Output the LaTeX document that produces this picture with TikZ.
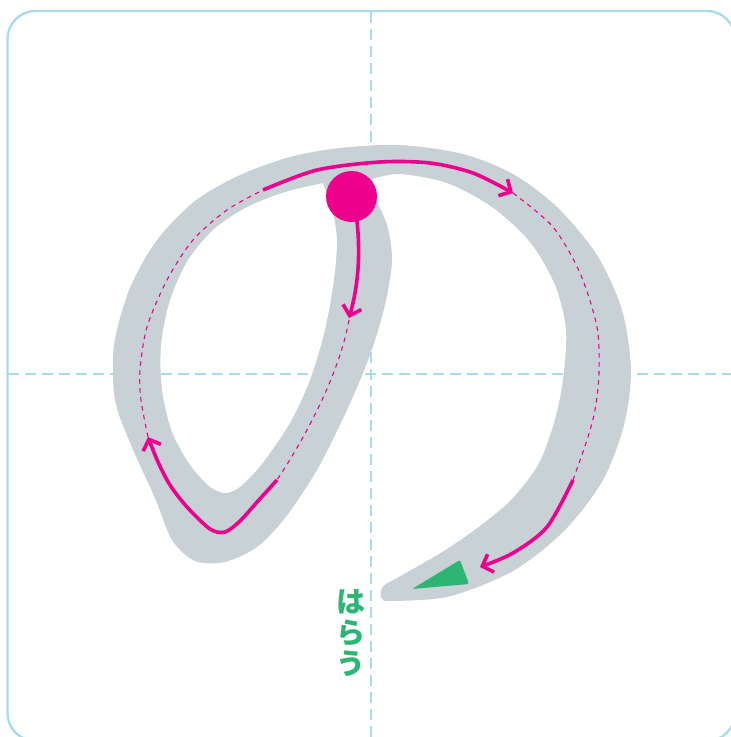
\documentclass[tikz,border=0pt]{standalone}
\usepackage{fontspec}
\usepackage{xcolor}
\usetikzlibrary{arrows.meta}
\newfontfamily\jpfont{Noto Sans CJK JP}

\definecolor{guideblue}{HTML}{A6DCEC}
\definecolor{strokegray}{HTML}{C8D1D5}
\definecolor{tracepink}{HTML}{EC008C}
\definecolor{haraugreen}{HTML}{2DB573}

\begin{document}
\begin{tikzpicture}[x=1pt, y=-1pt,
        guide/.style={guideblue, line width=2.5pt, dash pattern=on 11pt off 6pt},
        trace/.style={tracepink, line width=3.6pt, -{Straight Barb[length=9pt,width=19pt]}},
        dots/.style={tracepink, line width=1.1pt, dash pattern=on 4.5pt off 4.5pt}]
        % Page size and the card frame (cut off at right and bottom)
        \useasboundingbox (0,0) rectangle (731,737);
        \clip (0,0) rectangle (731,737);
        \draw[guideblue, line width=2.4pt, rounded corners=28pt] (7.5,11) rectangle (735,741);

        % Centre guide lines
        \draw[guide] (371,12) -- (371,737);
        \draw[guide] (8,374) -- (731,374);

        % The gray brush stroke, loop cut out with even odd rule
        \fill[strokegray, even odd rule]
            plot[smooth] coordinates {(384,601) (447,597) (513,571) (565,530) (603,480)
                (624,425) (631,370) (622,310) (597,255) (557,207) (513,174) (463,154) (400,145)
                (340,148) (290,157) (240,175) (195,201) (157,240) (130,288) (114,345) (115,400)
                (131,445) (155,498) (172,540) (195,561) (225,562) (257,547) (285,518) (317,470)
                (347,410) (370,355) (385,305) (392,260) (387,225) (374,196)}
            -- plot[smooth] coordinates {(372,179) (400,174) (447,183) (492,207) (530,242)
                (555,285) (566,330) (563,380) (554,423) (538,465) (511,500) (480,526) (447,549)
                (413,569) (386,584)}
            .. controls (379,588) and (379,598) .. (384,601) -- cycle
            plot[smooth] coordinates {(323,183) (285,192) (247,207) (214,229) (188,260)
                (170,300) (161,345) (162,390) (172,432) (190,465) (210,487) (225,493) (240,487)
                (262,464) (290,423) (310,380) (325,330) (334,280) (337,240) (333,212)}
            -- cycle;

        % Green harai mark at the tail
        \fill[haraugreen, rounded corners=1.5pt] (412,589) -- (460,560) -- (469,584) -- cycle;

        % Stroke order traces
        \draw[trace] (357,221) .. controls (361,260) and (357,290) .. (349,318);
        \draw[dots] (349,320) .. controls (340,370) and (310,430) .. (277,480);
        \draw[trace] plot[smooth] coordinates {(277,480) (258,501) (240,521) (225,532)
            (210,529) (187,507) (170,485) (158,462) (148,437)};
        \draw[dots] plot[smooth] coordinates {(148,437) (141,400) (140,370) (147,327) (167,280)
            (193,240) (227,210) (263,190)};
        \draw[trace] plot[smooth] coordinates {(263,190) (317,170) (380,162) (430,163)
            (473,173) (513,193)};
        \draw[dots] plot[smooth] coordinates {(513,193) (553,227) (580,273) (597,327) (599,373)
            (595,410) (587,440) (573,480)};
        \draw[trace] plot[smooth] coordinates {(573,480) (547,527) (513,553) (480,567)};

        % Starting point
        \fill[tracepink] (351.5,196.5) circle (25.5pt);

        % Label for the sweeping end
        \node[haraugreen, font=\jpfont\bfseries\fontsize{29}{31}\selectfont, align=center,
              inner sep=0pt] (harau) at (351,633) {は\\ら\\う};
    \end{tikzpicture}
\end{document}
